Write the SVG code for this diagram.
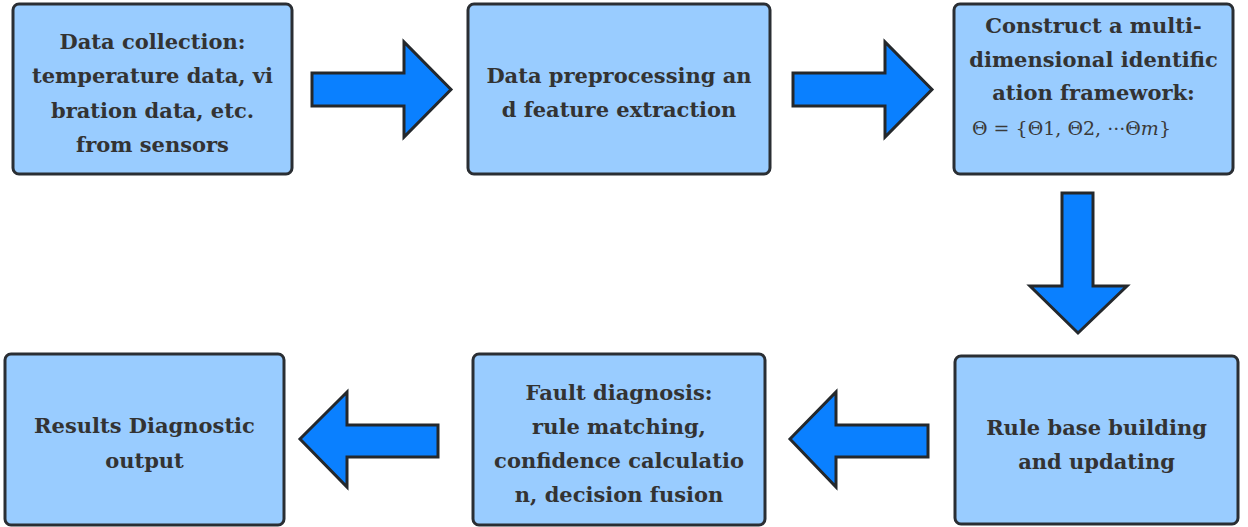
<svg xmlns="http://www.w3.org/2000/svg" width="1248" height="527" viewBox="0 0 1248 527">
<style>
.box{fill:#99ccff;stroke:#2a2e33;stroke-width:3}
.arr{fill:#0a80ff;stroke:#24282c;stroke-width:3;stroke-linejoin:miter}
.t{font-family:'DejaVu Serif',serif;font-weight:bold;font-size:21px;fill:#333;text-anchor:middle}
.f{font-family:'DejaVu Serif',serif;font-size:19px;fill:#3a3a3a}
</style>
<rect width="1248" height="527" fill="#fff"/>
<g id="n1"><rect class="box" x="13" y="4" width="279" height="170" rx="6"/>
<text class="t"><tspan x="152.5" y="48.5">Data collection:</tspan><tspan x="152.5" y="83">temperature data, vi</tspan><tspan x="152.5" y="117.5">bration data, etc.</tspan><tspan x="152.5" y="152">from sensors</tspan></text></g>
<g id="n2"><rect class="box" x="468" y="4" width="302" height="170" rx="6"/>
<text class="t"><tspan x="619" y="83">Data preprocessing an</tspan><tspan x="619" y="117">d feature extraction</tspan></text></g>
<g id="n3"><rect class="box" x="954" y="4" width="279" height="170" rx="6"/>
<text class="t"><tspan x="1093.5" y="33">Construct a multi-</tspan><tspan x="1093.5" y="67">dimensional identific</tspan><tspan x="1093.5" y="100">ation framework:</tspan></text>
<text class="f" x="972" y="135">Θ = {Θ1, Θ2, ···Θ<tspan font-style="italic">m</tspan>}</text></g>
<g id="n4"><rect class="box" x="955" y="356" width="283" height="168" rx="6"/>
<text class="t"><tspan x="1096.5" y="435">Rule base building</tspan><tspan x="1096.5" y="469">and updating</tspan></text></g>
<g id="n5"><rect class="box" x="473" y="354" width="292" height="171" rx="6"/>
<text class="t"><tspan x="619" y="400">Fault diagnosis:</tspan><tspan x="619" y="434">rule matching,</tspan><tspan x="619" y="468">confidence calculatio</tspan><tspan x="619" y="502">n, decision fusion</tspan></text></g>
<g id="n6"><rect class="box" x="5" y="354" width="279" height="171" rx="6"/>
<text class="t"><tspan x="144.5" y="433">Results Diagnostic</tspan><tspan x="144.5" y="468">output</tspan></text></g>
<g id="connectors">
<polygon class="arr" points="312,73 404,73 404,42 451,89.5 404,137 404,106 312,106"/>
<polygon class="arr" points="793,73 885,73 885,42 932,89.5 885,137 885,106 793,106"/>
<polygon class="arr" points="1062,193 1093,193 1093,286 1127,286 1078,333 1030,286 1062,286"/>
<polygon class="arr" points="928,425 836,425 836,392 790,439 836,487 836,457 928,457"/>
<polygon class="arr" points="438,425 347,425 347,392 300,439 347,487 347,457 438,457"/>
</g>
</svg>
